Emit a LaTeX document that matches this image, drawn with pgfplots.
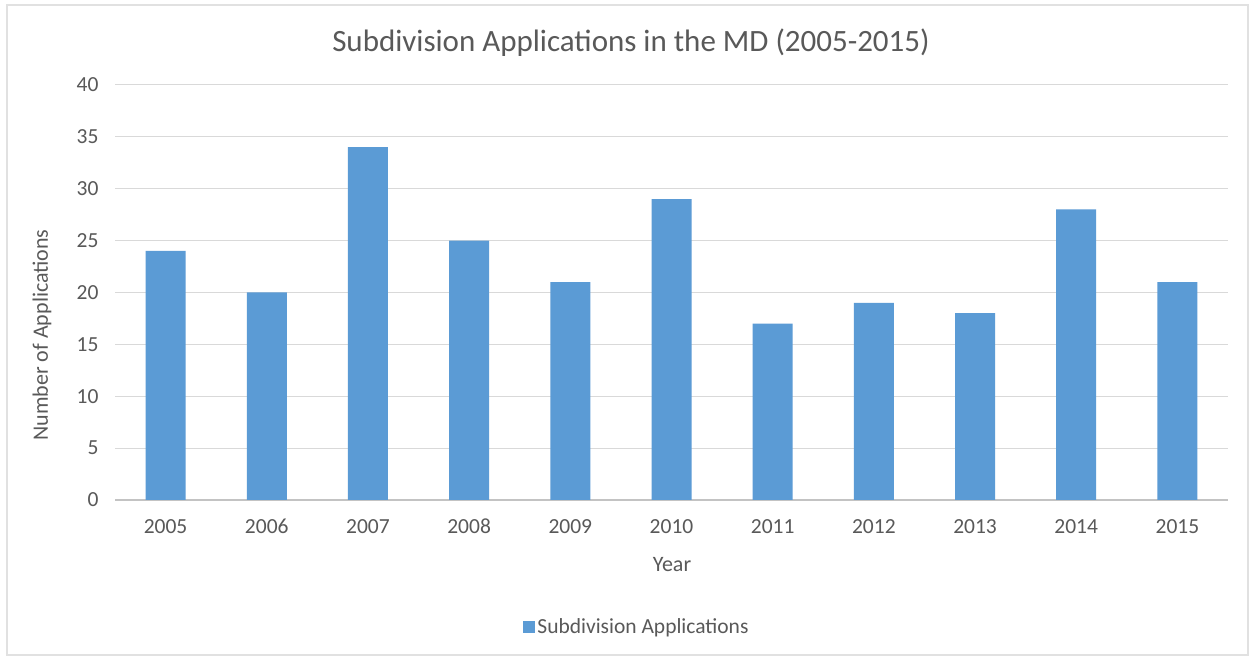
\documentclass[border=0pt]{standalone}
\usepackage{pgfplots}
\pgfplotsset{compat=1.18}
\usepackage{fontspec}
\setmainfont{Carlito}
\definecolor{barblue}{HTML}{5B9BD5}
\definecolor{txtgray}{HTML}{595959}
\definecolor{gridgray}{HTML}{D9D9D9}
\begin{document}
\begin{tikzpicture}[x=1pt,y=1pt]
\path[use as bounding box] (0,0) rectangle (1253,660);
\fill[white] (0,0) rectangle (1253,660);
\draw[gridgray!80, line width=1.5pt] (7,5) rectangle (1248,655);
\begin{axis}[
  at={(115pt,160pt)}, anchor=south west,
  scale only axis, width=1113pt, height=415pt,
  xmin=-0.5, xmax=10.5, ymin=0, ymax=40,
  ytick={0,5,...,40},
  xtick={0,...,10},
  xticklabels={2005,2006,2007,2008,2009,2010,2011,2012,2013,2014,2015},
  /pgf/number format/assume math mode=true,
  ticklabel style={font=\fontsize{21.5}{25}\selectfont, text=txtgray},
  yticklabel style={xshift=-13pt},
  xticklabel style={anchor=base, yshift=-34pt},
  axis line style={draw=none},
  major tick length=0pt,
  ymajorgrids, grid style={gridgray, line width=1pt},
  axis x line*=bottom,
  extra y ticks={0}, extra y tick labels={},
  extra y tick style={grid style={gridgray!90!black, line width=1.2pt}},
  ybar, bar width=40pt,
  legend style={at={(rel axis cs:0.469,-0.306)}, anchor=center, draw=none, fill=none,
    font=\fontsize{21.5}{25}\selectfont, text=txtgray},
  legend image code/.code={\fill[barblue] (0pt,-6pt) rectangle (12pt,6pt);},
  clip=false,
]
\addplot[fill=barblue, draw=none] coordinates {
(0,24) (1,20) (2,34) (3,25) (4,21) (5,29) (6,17) (7,19) (8,18) (9,28) (10,21)};
\addlegendentry{Subdivision Applications}
\end{axis}
\node[text=txtgray, font=\fontsize{31}{36}\selectfont] at (631,617) {Subdivision Applications in the MD (2005-2015)};
\node[text=txtgray, font=\fontsize{22}{26}\selectfont] at (672,95) {Year};
\node[text=txtgray, font=\fontsize{22}{26}\selectfont, rotate=90] at (42,325) {Number of Applications};
\end{tikzpicture}
\end{document}
